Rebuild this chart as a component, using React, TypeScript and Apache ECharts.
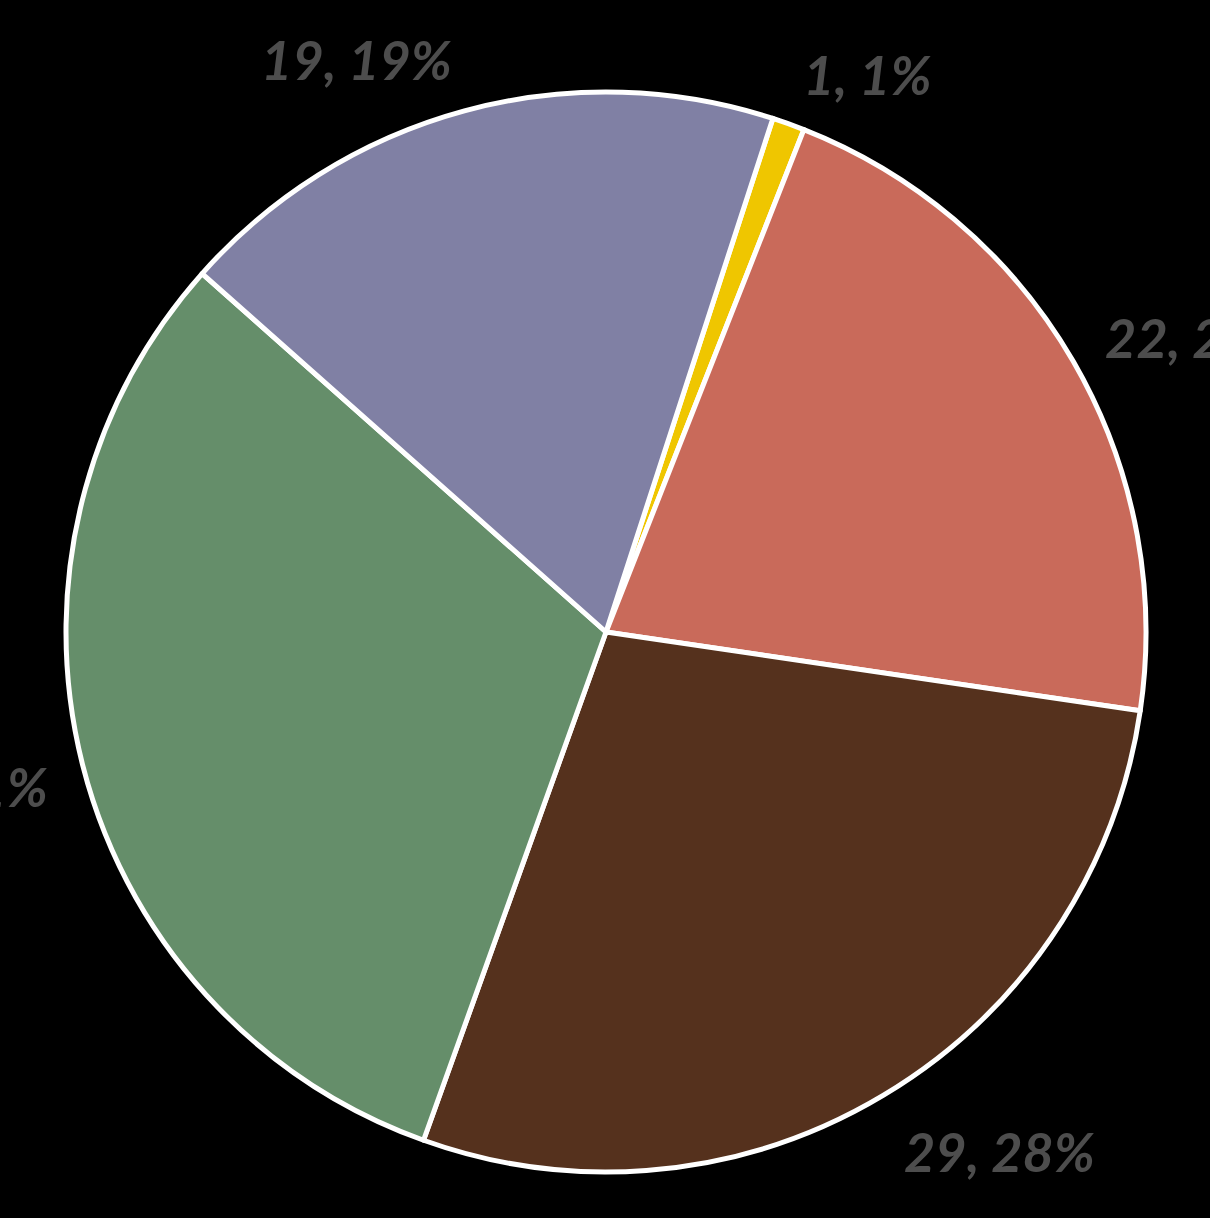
import React, { useEffect, useRef } from "react";
import * as echarts from "echarts";

const categories = ["A", "B", "C", "D", "E"];
const values = [1, 22, 29, 32, 19];
const percentLabels = [1, 21, 28, 31, 19];
const colors = ["#EFC600", "#C96A5A", "#55311D", "#658E6A", "#8080A4"];

const START_ANGLE = 72; // echarts degrees (counter-clockwise from 3 o'clock)

export default function App() {
  const ref = useRef<HTMLDivElement>(null);
  useEffect(() => {
    document.body.style.margin = "0";
    document.body.style.background = "#000";
    const total = values.reduce((a, b) => a + b, 0);
    let acc = 0;
    const midAngles = values.map((v) => {
      const m = (90 - START_ANGLE) + ((acc + v / 2) / total) * 360;
      acc += v;
      return (m * Math.PI) / 180;
    });
    const chart = echarts.init(ref.current!, null, { renderer: "svg" });
    chart.setOption({
      animation: false,
      backgroundColor: "#000",
      series: [
        {
          type: "pie",
          center: [606, 632],
          radius: 540,
          startAngle: START_ANGLE,
          clockwise: true,
          avoidLabelOverlap: false,
          itemStyle: { borderColor: "#FFFFFF", borderWidth: 5 },
          label: {
            show: true,
            position: "outside",
            color: "#4D4D4D",
            fontFamily: "Lato",
            fontWeight: "bold",
            fontStyle: "italic",
            fontSize: 54,
            width: 400,
            overflow: "none",
            distanceToLabelLine: 4,
            formatter: (p: any) => `${p.value}, ${percentLabels[p.dataIndex]}%`,
          },
          labelLine: { show: false, length: 32, length2: 0 },
          labelLayout: (p: any) => {
            const th = midAngles[p.dataIndex];
            const h = p.labelRect.height;
            // push the label box outward so its nearest edge faces the pie; +6 corrects digit baseline
            return { dy: -(h / 2) * Math.cos(th) + 6 };
          },
          emphasis: { disabled: true },
          data: categories.map((c, i) => ({
            name: c,
            value: values[i],
            itemStyle: { color: colors[i] },
          })),
        },
      ],
    });
    return () => chart.dispose();
  }, []);
  return <div ref={ref} style={{ width: 1210, height: 1218 }} />;
}
